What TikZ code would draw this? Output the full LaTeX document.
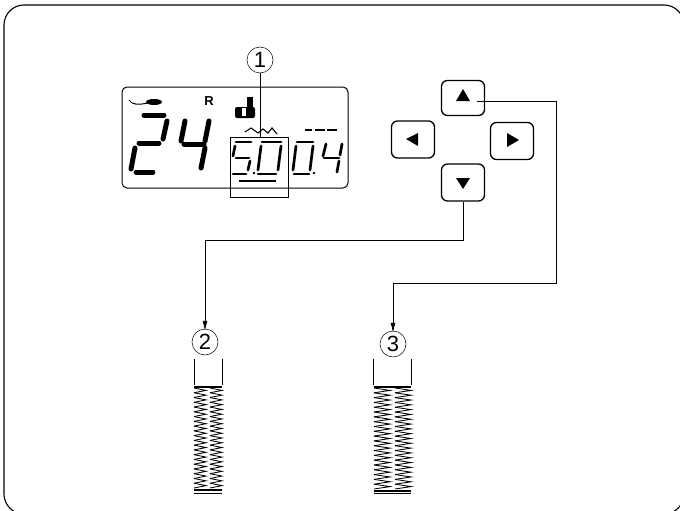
\documentclass[tikz,border=0pt]{standalone}
\usepackage{fontspec}
\setmainfont{Liberation Sans}
\usetikzlibrary{arrows.meta,calc}

\tikzset{
  btn/.style={draw,line width=1.3pt,rounded corners=6pt,minimum width=43pt,minimum height=35pt},
  num/.style={draw,circle,line width=0.5pt,minimum size=26pt,inner sep=0pt,font=\fontsize{22}{22}\selectfont},
  wire/.style={line width=0.7pt},
  bigseg/.style={line width=5pt,line cap=round},
  smallseg/.style={line width=2.7pt,line cap=round},
  stitch/.style={line width=0.85pt}
}

% zigzag column: x left, x right, y top, y bottom, number of teeth
\newcommand{\zigcol}[5]{
  \pgfmathsetmacro\dy{(#4-#3)/(2*#5)}
  \foreach \i in {1,...,#5}{
    \pgfmathsetmacro\ya{#3+(2*\i-2)*\dy}
    \pgfmathsetmacro\yb{#3+(2*\i-1)*\dy}
    \pgfmathsetmacro\yc{#3+(2*\i)*\dy}
    \draw[stitch] (#1,\ya) -- (#2,\yb) -- (#1,\yc);
  }
}

\begin{document}
\begin{tikzpicture}[x=1pt,y=-1pt]
\clip (0,0) rectangle (680,511);

\draw[line width=1.1pt,rounded corners=20pt] (4,5) rectangle (684,514);

% display
\draw[line width=1pt,rounded corners=5pt] (122,87) rectangle (348,188);

% big digits
\draw[bigseg] (144,115) -- (164,115);
\draw[bigseg] (167,121) -- (163,139);
\draw[bigseg] (139,143) -- (159,143);
\draw[bigseg] (135,148) -- (131,169);
\draw[bigseg] (136,172) -- (153,172);
\draw[bigseg] (185,121) -- (181,141);
\draw[bigseg] (184,144) -- (204,144);
\draw[bigseg] (209,121) -- (205,141);
\draw[bigseg] (205,148) -- (201,168);

% machine mark
\draw[line width=1pt] (129,100) .. controls (132,105) and (138,105) .. (148,103);
\fill (154,102) ellipse (8pt and 3pt);

\node[font=\bfseries\fontsize{13}{13}\selectfont,inner sep=0pt] (rmark) at (209,101) {R};

% foot mark
\fill[rounded corners=2pt] (235,107) rectangle (255,118);
\fill (247,97) rectangle (253,110);
\fill[white] (242,108) rectangle (245.5,116);

% stitch width
\draw[line width=1.1pt] (245,132) -- (251,128) -- (258,133) -- (263,129) -- (268,133) -- (272,128) -- (277,134);
\draw[line width=1.3pt] (305,130) -- (312,130) (315,130) -- (325,130) (327,130) -- (337,130);

% small digits
\draw[smallseg] (236,142) -- (251,142);
\draw[smallseg] (235,146) -- (233,156);
\draw[smallseg] (236,158) -- (249,158);
\draw[smallseg] (250,161) -- (248,170);
\draw[smallseg] (233,174) -- (246,174);
\fill (254,173) circle (1.3pt);
\draw[smallseg] (262,142) -- (281,142);
\draw[smallseg] (261,146) -- (258,170);
\draw[smallseg] (281,146) -- (278,170);
\draw[smallseg] (258,174) -- (276,174);
\draw[line width=1.9pt] (239,181) -- (276,181);

\draw[smallseg] (297,142) -- (313,142);
\draw[smallseg] (296,146) -- (293,170);
\draw[smallseg] (313,146) -- (310,170);
\draw[smallseg] (294,174) -- (309,174);
\fill (314,173) circle (1.3pt);
\draw[smallseg] (326,144) -- (323,156);
\draw[smallseg] (324,158) -- (339,158);
\draw[smallseg] (342,144) -- (340,155);
\draw[smallseg] (339,161) -- (337,172);

\draw[line width=0.6pt] (230,137) rectangle (288,197);

% callouts
\node[num] (numa) at (260,60) {1};
\node[num] (numb) at (205,342) {2};
\node[num] (numc) at (393,344) {3};
\coordinate (boxtop) at (260,137);
\draw[wire] (numa) -- (boxtop);

% buttons
\node[btn] (btnup) at (463,98) {};
\node[btn,minimum height=37pt] (btnleft) at (413,139.5) {};
\node[btn,minimum height=37pt] (btnright) at (512,141) {};
\node[btn,minimum height=37pt] (btndown) at (463,182.5) {};
\fill (463,89) -- (470,101) -- (456,101) -- cycle;
\fill (406,139) -- (418,133) -- (418,146) -- cycle;
\fill (519,140) -- (507,133) -- (507,147) -- cycle;
\fill (463,189) -- (456,178) -- (470,178) -- cycle;

% connectors
\coordinate (upwire) at (477,101);
\coordinate (rightbend) at (556,283);
\draw[wire,-{Latex[length=10pt,width=5pt]}] (upwire) -- (upwire -| rightbend) -- (rightbend) -| ([yshift=-2pt]numc.north);
\coordinate (downbend) at (463,240);
\draw[wire,-{Latex[length=10pt,width=5pt]}] (btndown.south) -- (downbend) -| ([yshift=-2pt]numb.north);

% left button hole
\draw[line width=0.7pt] (194,359) -- (194,385) (222,359) -- (222,385);
\draw[line width=1.6pt] (194,387) -- (222,387);
\zigcol{194}{206}{388}{488}{21}
\zigcol{210}{222}{388}{488}{21}
\draw[line width=2.5pt] (194,490) -- (222,490);
\draw[line width=0.7pt] (194,493) -- (222,493);

% right button hole
\draw[line width=0.7pt] (373,359) -- (373,385) (411,359) -- (411,385);
\draw[line width=1.2pt] (374,387) -- (411,387);
\zigcol{374}{390}{388}{489}{21}
\zigcol{395}{411}{388}{489}{21}
\draw[line width=1.2pt] (374,491) -- (411,491);
\draw[line width=0.7pt] (374,493) -- (411,493);
\end{tikzpicture}
\end{document}
